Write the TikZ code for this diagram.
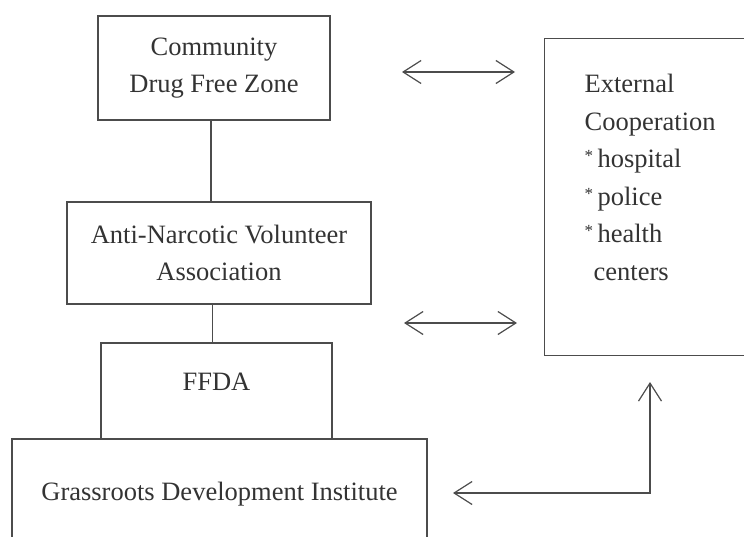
\documentclass[tikz,border=0pt]{standalone}
\usepackage{fontspec}
\setmainfont{Liberation Serif}
\usetikzlibrary{arrows.meta}

\newcommand{\itemstar}{\raisebox{6pt}{\fontsize{17}{17}\selectfont *}\,}

\begin{document}
\begin{tikzpicture}[x=1pt,y=-1pt,
    box/.style={draw=black!70,line width=1.2pt,text=black!80,align=center,inner sep=0pt,
      font=\fontsize{26.5}{37.5}\selectfont},
    link/.style={draw=black!70,line width=1.2pt},
    both/.style={link,{Straight Barb[length=18pt,width=23pt]}-{Straight Barb[length=18pt,width=23pt]}}]
      \clip (0,0) rectangle (744,536);

      \node[box,minimum width=232pt,minimum height=104pt] (cdfz) at (214,68) {Community\\Drug Free Zone};
      \node[box,minimum width=304pt,minimum height=102pt] (anva) at (219,253) {Anti-Narcotic Volunteer\\Association};
      \node[box,minimum width=231pt,minimum height=96pt,text height=17pt,text depth=18pt] (ffda) at (216.5,391) {FFDA};
      \node[box,minimum width=415pt,minimum height=110pt] (gdi) at (219.5,494) {Grassroots Development Institute};
      \node[box,anchor=north west,inner xsep=40pt,align=left] (extc) at (544,38)
        {\parbox[c][317pt][t]{160pt}{\raggedright\vspace*{36pt}External\\Cooperation\\\itemstar hospital\\\itemstar police\\\itemstar health\\\hspace*{9pt}centers}};

      \draw[link] ([xshift=-3pt]cdfz.south) -- ([xshift=-3pt]cdfz.south |- anva.north);
      \draw[link] ([xshift=-4pt]ffda.north) -- ([xshift=-4pt]ffda.north |- anva.south);

      \coordinate (ltop) at (402,72);
      \coordinate (rtop) at (515,72);
      \coordinate (lmid) at (404,323);
      \coordinate (rmid) at (517,323);
      \coordinate (elbl) at (453,493);
      \coordinate (elbt) at (650,382);

      \draw[both] (ltop) -- (rtop);
      \draw[both] (lmid) -- (rmid);
      \draw[both] (elbl) -| (elbt);
    \end{tikzpicture}
\end{document}
